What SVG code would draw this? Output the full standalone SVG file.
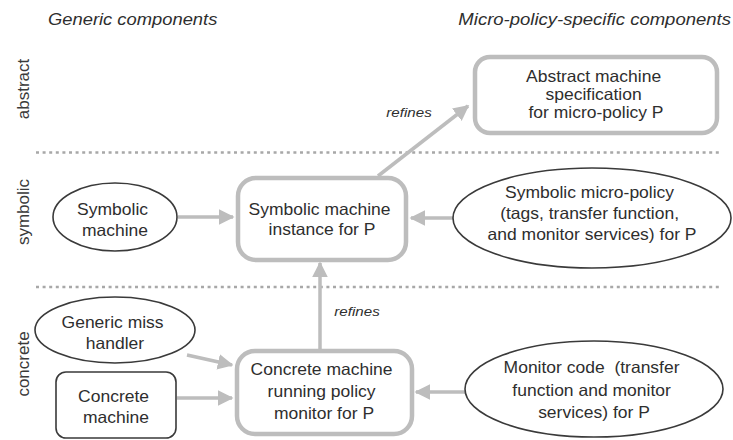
<svg xmlns="http://www.w3.org/2000/svg" width="733" height="440" viewBox="0 0 733 440">
  <defs>
    <style>
      text { font-family: "Liberation Sans", Arial, Helvetica, sans-serif; fill: #2e2e2e; }
      .body { font-size: 16.5px; text-anchor: middle; }
      .head { font-size: 17px; font-style: italic; }
      .side { font-size: 17px; text-anchor: middle; fill: #3a3a3a; }
      .lbl { font-size: 13.5px; font-style: italic; text-anchor: middle; }
      .sep { stroke: #a8a8a8; stroke-width: 2.5; stroke-dasharray: 3 3.6; fill: none; }
      .inst { fill: #fff; stroke: #bdbdbd; stroke-width: 4.5; }
      .oval { fill: #fff; stroke: #3a3a3a; stroke-width: 1.6; }
      .flow { stroke: #bdbdbd; stroke-width: 3.5; fill: none; marker-end: url(#tip); }
    </style>
    <marker id="tip" viewBox="0 0 10 10" refX="9" refY="5" markerWidth="4.5" markerHeight="4.5" markerUnits="strokeWidth" orient="auto">
      <path d="M0,0 L10,5 L0,10 z" fill="#bdbdbd"/>
    </marker>
  </defs>

  <!-- column headings -->
  <text class="head" transform="translate(48,25) scale(1.08 1)">Generic components</text>
  <text class="head" transform="translate(731,25) scale(1.09 1)" text-anchor="end">Micro-policy-specific components</text>

  <!-- level names -->
  <text class="side" transform="translate(29,89) rotate(-90)">abstract</text>
  <text class="side" transform="translate(29,212) rotate(-90)">symbolic</text>
  <text class="side" transform="translate(29,364) rotate(-90)">concrete</text>

  <!-- level separators -->
  <line class="sep" x1="36" y1="152.5" x2="722" y2="152.5"/>
  <line class="sep" x1="36" y1="287" x2="722" y2="287"/>

  <!-- connectors -->
  <g id="connectors">
    <line class="flow" x1="378" y1="176" x2="468" y2="106"/>
    <line class="flow" x1="320" y1="349" x2="320" y2="263"/>
    <line class="flow" x1="178" y1="217" x2="233" y2="217"/>
    <line class="flow" x1="453" y1="218" x2="411" y2="218"/>
    <line class="flow" x1="187" y1="355" x2="232" y2="365"/>
    <line class="flow" x1="177" y1="398" x2="232" y2="398"/>
    <line class="flow" x1="465" y1="392" x2="416" y2="392"/>
    <text class="lbl" transform="translate(409,117) scale(1.12 1)">refines</text>
    <text class="lbl" transform="translate(357,316) scale(1.12 1)">refines</text>
  </g>

  <g id="abstract-spec">
    <rect class="inst" x="475" y="57" width="242" height="76" rx="15"/>
    <text class="body" transform="translate(596,82) scale(1.06 1)">
      <tspan x="0" y="0">Abstract machine</tspan>
      <tspan x="0" y="18">specification</tspan>
      <tspan x="0" y="36">for micro-policy P</tspan>
    </text>
  </g>

  <g id="symbolic-instance">
    <rect class="inst" x="238" y="178" width="168" height="82" rx="18"/>
    <text class="body" transform="translate(322,215) scale(1.06 1)">
      <tspan x="0" y="0">Symbolic machine</tspan>
      <tspan x="0" y="20">instance for P</tspan>
    </text>
  </g>

  <g id="concrete-instance">
    <rect class="inst" x="237" y="351" width="175" height="83" rx="18"/>
    <text class="body" transform="translate(324,375) scale(1.06 1)">
      <tspan x="0" y="0">Concrete machine</tspan>
      <tspan x="0" y="22">running policy</tspan>
      <tspan x="0" y="44">monitor for P</tspan>
    </text>
  </g>

  <g id="symbolic-machine">
    <ellipse class="oval" cx="115" cy="217" rx="62" ry="34"/>
    <text class="body" transform="translate(115,215) scale(1.06 1)">
      <tspan x="0" y="0">Symbolic</tspan>
      <tspan x="0" y="21">machine</tspan>
    </text>
  </g>

  <g id="symbolic-policy">
    <ellipse class="oval" cx="592" cy="218" rx="139" ry="50"/>
    <text class="body" transform="translate(592,198) scale(1.06 1)">
      <tspan x="0" y="0">Symbolic micro-policy</tspan>
      <tspan x="0" y="21">(tags, transfer function,</tspan>
      <tspan x="0" y="42">and monitor services) for P</tspan>
    </text>
  </g>

  <g id="miss-handler">
    <ellipse class="oval" cx="115" cy="330" rx="80" ry="33"/>
    <text class="body" transform="translate(115,328) scale(1.06 1)">
      <tspan x="0" y="0">Generic miss</tspan>
      <tspan x="0" y="21">handler</tspan>
    </text>
  </g>

  <g id="concrete-machine">
    <rect class="oval" x="56" y="372" width="120" height="66" rx="10"/>
    <text class="body" transform="translate(116,402) scale(1.06 1)">
      <tspan x="0" y="0">Concrete</tspan>
      <tspan x="0" y="21">machine</tspan>
    </text>
  </g>

  <g id="monitor-code">
    <ellipse class="oval" cx="594" cy="389" rx="129" ry="48"/>
    <text class="body" transform="translate(594,373) scale(1.06 1)">
      <tspan x="0" y="0">Monitor code&#160; (transfer</tspan>
      <tspan x="0" y="23">function and monitor</tspan>
      <tspan x="0" y="45">services) for P</tspan>
    </text>
  </g>
</svg>
